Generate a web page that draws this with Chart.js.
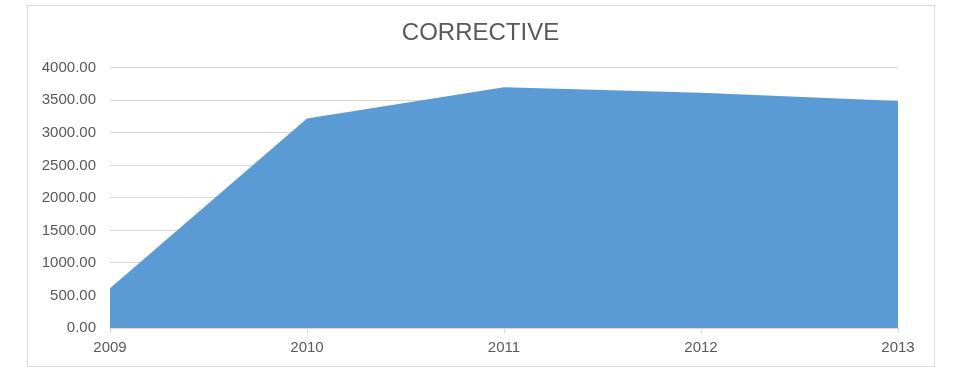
<!DOCTYPE html>
<html>
<head>
<meta charset="utf-8">
<title>CORRECTIVE</title>
<script src="https://cdn.jsdelivr.net/npm/chart.js@4"></script>
<style>
  html, body { margin: 0; padding: 0; background: #fff; }
  #wrap { position: relative; width: 955px; height: 367px; }
  #frame {
    position: absolute; left: 27px; top: 5px; width: 906px; height: 360px;
    border: 1px solid #d9d9d9; pointer-events: none;
  }
  canvas { position: absolute; left: 0; top: 0; }
</style>
</head>
<body>
<div id="wrap">
  <canvas id="area-chart" width="955" height="367"></canvas>
  <div id="frame"></div>
</div>
<script>
//-- Data //
const years = ['2009', '2010', '2011', '2012', '2013'];
const corrective = [610, 3220, 3700, 3615, 3490];
const chartTitle = 'CORRECTIVE';

const textColor = '#595959';
const gridColor = '#d9d9d9';
const fontFamily = '"Liberation Sans", Arial, sans-serif';

//-- Chart //
const ctx = document.getElementById('area-chart');

const padLeft = 6;

const chart = new Chart(ctx, {
    type: 'line',
    data: {
        labels: years,
        datasets: [
            {
                label: chartTitle,
                data: corrective,
                fill: 'origin',
                backgroundColor: '#5b9bd5',
                borderWidth: 0,
                pointRadius: 0,
                tension: 0
            }
        ]
    },
    options: {
        responsive: false,
        animation: false,
        layout: {
            padding: { left: padLeft, right: 0, top: 0, bottom: 4 }
        },
        plugins: {
            legend: { display: false },
            tooltip: { enabled: false },
            title: {
                display: true,
                text: chartTitle,
                color: textColor,
                font: { family: fontFamily, size: 24, weight: 'normal' },
                padding: { top: 19, bottom: 20 }
            }
        },
        scales: {
            x: {
                offset: false,
                grid: {
                    display: true,
                    drawOnChartArea: false,
                    drawTicks: true,
                    tickLength: 5,
                    color: gridColor
                },
                border: { display: true, color: gridColor, width: 1 },
                ticks: {
                    color: textColor,
                    font: { family: fontFamily, size: 15 },
                    padding: 6,
                    maxRotation: 0
                }
            },
            y: {
                min: 0,
                max: 4000,
                grid: { color: gridColor, drawTicks: false },
                border: { display: false },
                ticks: {
                    stepSize: 500,
                    color: textColor,
                    font: { family: fontFamily, size: 15 },
                    padding: 14,
                    callback: value => value.toFixed(2)
                },
                afterFit: scale => {
                    // plot area starts at x = 110
                    scale.width = 110 - padLeft;
                }
            },
            // empty right-hand axis, only reserves the margin right of the plot
            spacer: {
                type: 'linear',
                position: 'right',
                display: true,
                grid: { display: false, drawTicks: false },
                border: { display: false },
                ticks: { display: false },
                afterFit: scale => {
                    scale.width = 57;
                }
            }
        }
    }
});
</script>
</body>
</html>
